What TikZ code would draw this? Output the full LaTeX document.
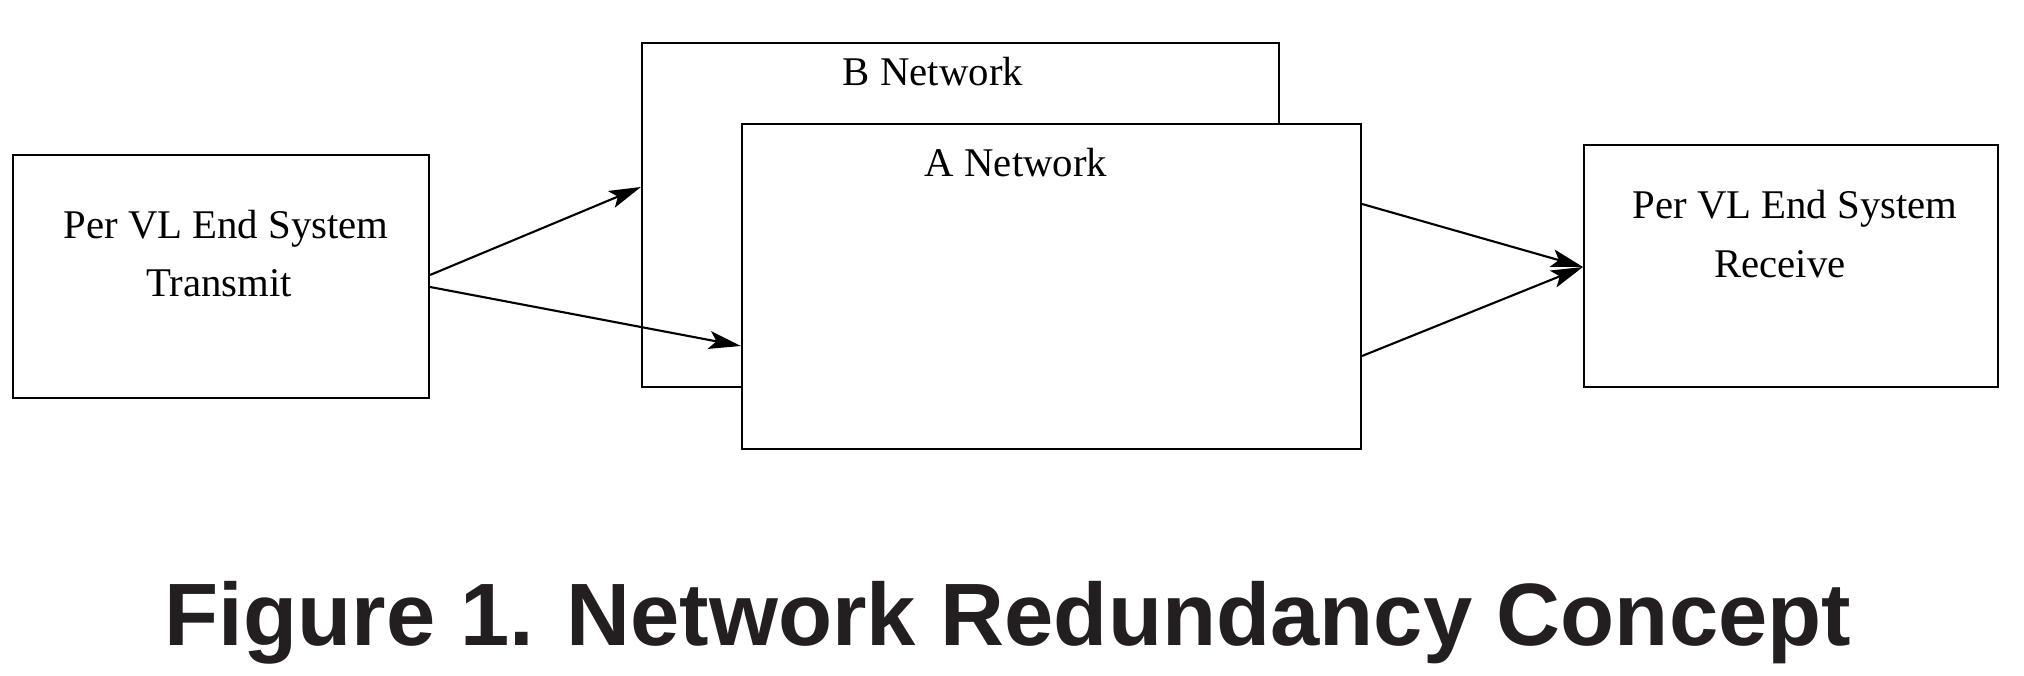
\documentclass[tikz,border=0pt]{standalone}
\usepackage{fontspec}
\setmainfont{Liberation Serif}
\setsansfont{Liberation Sans}
\usetikzlibrary{arrows.meta}
\definecolor{captiongray}{RGB}{35,31,32}
\tikzset{
  netbox/.style={draw, fill=white, line width=0.6pt, inner sep=0pt},
  boxtext/.style={anchor=base, font=\fontsize{11.6}{14}\selectfont},
  link/.style={line width=0.6pt, -{Stealth[length=3.2mm,width=1.8mm,inset=0.7mm]}},
}
\begin{document}
\begin{tikzpicture}
  \useasboundingbox (0,0) rectangle (20.24,6.76);

  % end systems and the two networks
  \node[netbox, minimum width=4.16cm, minimum height=2.43cm] (tx) at (2.21,3.995) {};
  \node[netbox, minimum width=6.37cm, minimum height=3.44cm] (bnet) at (9.605,4.61) {};
  \node[netbox, minimum width=6.19cm, minimum height=3.25cm] (anet) at (10.515,3.895) {};
  \node[netbox, minimum width=4.14cm, minimum height=2.42cm] (rx) at (17.91,4.10) {};

  % Labels
  \node[boxtext] (txa) at (2.26,4.37) {Per VL End System};
  \node[boxtext] (txb) at (2.19,3.79) {Transmit};
  \node[boxtext] (blbl) at (9.33,5.90) {B Network};
  \node[boxtext] (albl) at (10.16,4.99) {A Network};
  \node[boxtext] (rxa) at (17.95,4.57) {Per VL End System};
  \node[boxtext] (rxb) at (17.80,3.98) {Receive};

  % Redundant links
  \draw[link] ([yshift=0.015cm]tx.east) -- ([yshift=0.28cm]bnet.west);
  \draw[link] ([yshift=-0.105cm]tx.east) -- ([yshift=-0.595cm]anet.west);
  \draw[link] ([yshift=0.825cm]anet.east) -- ([yshift=-0.01cm]rx.west);
  \draw[link] ([yshift=-0.695cm]anet.east) -- ([yshift=-0.01cm]rx.west);

  \node[font=\sffamily\bfseries\fontsize{25.2}{30}\selectfont, text=captiongray, anchor=base] (caption) at (10.08,0.30) {Figure 1. Network Redundancy Concept};
\end{tikzpicture}
\end{document}
